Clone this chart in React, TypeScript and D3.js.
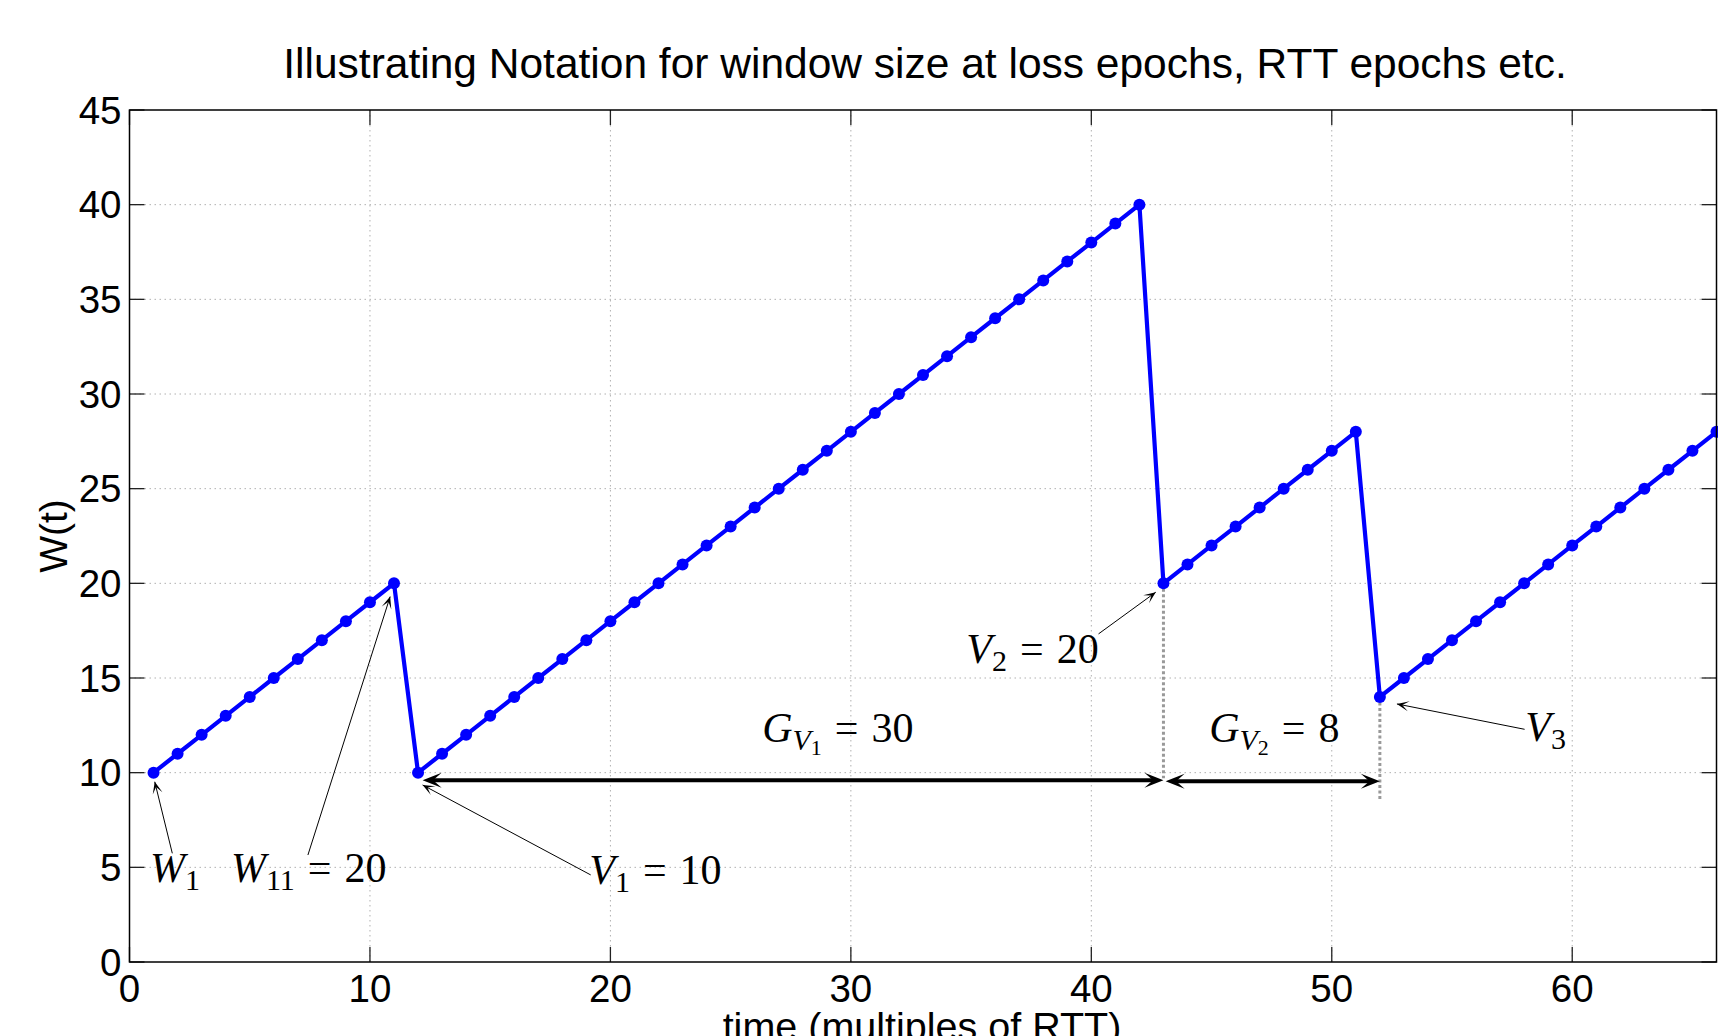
import React from "react";
import * as d3 from "d3";

// ---------- data ----------
const times: number[] = d3.range(1, 67);
const windowSizes: number[] = [
  10, 11, 12, 13, 14, 15, 16, 17, 18, 19, 20,
  10, 11, 12, 13, 14, 15, 16, 17, 18, 19, 20, 21, 22, 23, 24, 25, 26, 27, 28, 29, 30, 31, 32, 33, 34, 35, 36, 37, 38, 39, 40,
  20, 21, 22, 23, 24, 25, 26, 27, 28,
  14, 15, 16, 17, 18, 19, 20, 21, 22, 23, 24, 25, 26, 27, 28,
];
const xTicks: number[] = [0, 10, 20, 30, 40, 50, 60];
const yTicks: number[] = [0, 5, 10, 15, 20, 25, 30, 35, 40, 45];

const titleText = "Illustrating Notation for window size at loss epochs, RTT epochs etc.";
const xLabelText = "time (multiples of RTT)";
const yLabelText = "W(t)";

// annotation text (data coords of start/baseline)
type Part = { t: string; it?: boolean; lvl?: number; dx?: number };
const labelTexts: { x: number; y: number; parts: Part[] }[] = [
  { x: 0.85, y: 4.23, parts: [{ t: "W", it: true }, { t: "1", lvl: 1 }] },
  { x: 4.22, y: 4.23, parts: [{ t: "W", it: true }, { t: "11", lvl: 1 }, { t: "=", dx: 13 }, { t: "20", dx: 13 }] },
  { x: 19.12, y: 4.12, parts: [{ t: "V", it: true }, { t: "1", lvl: 1 }, { t: "=", dx: 13 }, { t: "10", dx: 13 }] },
  { x: 26.31, y: 11.62, parts: [{ t: "G", it: true }, { t: "V", it: true, lvl: 1 }, { t: "1", lvl: 2 }, { t: "=", dx: 13 }, { t: "30", dx: 13 }] },
  { x: 34.8, y: 15.8, parts: [{ t: "V", it: true }, { t: "2", lvl: 1 }, { t: "=", dx: 13 }, { t: "20", dx: 13 }] },
  { x: 44.9, y: 11.62, parts: [{ t: "G", it: true }, { t: "V", it: true, lvl: 1 }, { t: "2", lvl: 2 }, { t: "=", dx: 13 }, { t: "8", dx: 13 }] },
  { x: 58.05, y: 11.67, parts: [{ t: "V", it: true }, { t: "3", lvl: 1 }] },
];

// thin pointer arrows: [tailX, tailY, tipX, tipY]
const pointerArrows: number[][] = [
  [1.78, 5.74, 1.05, 9.52],
  [7.42, 5.65, 10.84, 19.3],
  [19.18, 4.6, 12.19, 9.35],
  [40.3, 17.33, 42.68, 19.53],
  [58.02, 12.29, 52.71, 13.63],
];

// thick double arrows: [x1, y1, x2, y2]
const gapArrows: number[][] = [
  [12.19, 9.6, 43.0, 9.6],
  [43.09, 9.55, 52.0, 9.55],
];

// dotted vertical markers: [x, yTop, yBottom]
const epochMarkers: number[][] = [
  [43, 20, 9.7],
  [52, 14, 8.5],
];

// ---------- layout ----------
const W = 1718;
const H = 1036;
const M = { left: 129.5, right: 1716.5, top: 110, bottom: 962 };
const SANS = "'Liberation Sans', Arial, Helvetica, sans-serif";
const SERIF = "'Liberation Serif', 'Times New Roman', serif";

function arrowHead(x1: number, y1: number, x2: number, y2: number, len: number, half: number, notch: number) {
  const a = Math.atan2(y2 - y1, x2 - x1);
  const ux = Math.cos(a), uy = Math.sin(a);
  const px = -uy, py = ux;
  const bx = x2 - ux * len, by = y2 - uy * len;
  const nx = x2 - ux * len * notch, ny = y2 - uy * len * notch;
  return `M${x2},${y2}L${bx + px * half},${by + py * half}L${nx},${ny}L${bx - px * half},${by - py * half}Z`;
}

export default function App() {
  const x = d3.scaleLinear().domain([0, 66]).range([M.left, M.right]);
  const y = d3.scaleLinear().domain([0, 45]).range([M.bottom, M.top]);
  const pts = times.map((t, i) => [t, windowSizes[i]] as [number, number]);
  const line = d3
    .line<[number, number]>()
    .x((d) => x(d[0]))
    .y((d) => y(d[1]));

  const tickLen = 15;
  const subSize = [42, 30, 22];
  const subShift = [0, 8, 13];

  return (
    <svg
      width={W}
      height={H}
      viewBox={`0 0 ${W} ${H}`}
      style={{ position: "absolute", left: 0, top: 0, display: "block", background: "#fff" }}
    >
      <rect x={0} y={0} width={W} height={H} fill="#fff" />
      <defs>
        <clipPath id="plotclip">
          <rect x={M.left} y={M.top - 10} width={M.right - M.left + 10} height={M.bottom - M.top + 10} />
        </clipPath>
      </defs>

      {/* grid */}
      <g stroke="#b0b0b0" strokeWidth={1} strokeDasharray="1.5,3.5">
        {xTicks.filter((t) => t > 0).map((t) => (
          <line key={"gx" + t} x1={x(t)} x2={x(t)} y1={M.top} y2={M.bottom} />
        ))}
        {yTicks.filter((t) => t > 0 && t < 45).map((t) => (
          <line key={"gy" + t} x1={M.left} x2={M.right} y1={y(t)} y2={y(t)} />
        ))}
      </g>

      {/* ticks */}
      <g stroke="#222" strokeWidth={1.3}>
        {xTicks.map((t) => (
          <g key={"tx" + t}>
            <line x1={x(t)} x2={x(t)} y1={M.bottom} y2={M.bottom - tickLen} />
            <line x1={x(t)} x2={x(t)} y1={M.top} y2={M.top + tickLen} />
          </g>
        ))}
        {yTicks.map((t) => (
          <g key={"ty" + t}>
            <line x1={M.left} x2={M.left + tickLen} y1={y(t)} y2={y(t)} />
            <line x1={M.right} x2={M.right - tickLen} y1={y(t)} y2={y(t)} />
          </g>
        ))}
      </g>

      {/* epoch dotted markers */}
      <g stroke="#999" strokeWidth={3} strokeDasharray="3,2.5">
        {epochMarkers.map((m, i) => (
          <line key={"em" + i} x1={x(m[0])} x2={x(m[0])} y1={y(m[1])} y2={y(m[2])} />
        ))}
      </g>

      {/* data line */}
      <g clipPath="url(#plotclip)">
        <path d={line(pts) || ""} fill="none" stroke="#0000ff" strokeWidth={4.2} strokeLinejoin="round" />
        {pts.map((p, i) => (
          <circle key={"pt" + i} cx={x(p[0])} cy={y(p[1])} r={6} fill="#0000ff" />
        ))}
      </g>

      {/* gap arrows */}
      <g>
        {gapArrows.map((a, i) => {
          const x1 = x(a[0]), y1 = y(a[1]), x2 = x(a[2]), y2 = y(a[3]);
          return (
            <g key={"ga" + i}>
              <line x1={x1 + 8} y1={y1} x2={x2 - 8} y2={y2} stroke="#000" strokeWidth={4} />
              <path d={arrowHead(x1, y1, x2, y2, 19, 7.5, 0.55)} fill="#000" />
              <path d={arrowHead(x2, y2, x1, y1, 19, 7.5, 0.55)} fill="#000" />
            </g>
          );
        })}
      </g>

      {/* pointer arrows */}
      <g>
        {pointerArrows.map((a, i) => {
          const x1 = x(a[0]), y1 = y(a[1]), x2 = x(a[2]), y2 = y(a[3]);
          return (
            <g key={"pa" + i}>
              <line x1={x1} y1={y1} x2={x2} y2={y2} stroke="#000" strokeWidth={1} />
              <path d={arrowHead(x1, y1, x2, y2, 12, 5, 0.45)} fill="#000" />
            </g>
          );
        })}
      </g>

      {/* annotation labels */}
      <g fontFamily={SERIF} fill="#000">
        {labelTexts.map((lb, i) => {
          const bx = x(lb.x), by = y(lb.y);
          return (
            <text key={"lb" + i} x={bx} y={by} fontSize={subSize[0]}>
              {lb.parts.map((p, j) => {
                const lvl = p.lvl || 0;
                return (
                  <tspan
                    key={j}
                    y={by + subShift[lvl]}
                    dx={p.dx || 0}
                    fontSize={subSize[lvl]}
                    fontStyle={p.it ? "italic" : "normal"}
                  >
                    {p.t}
                  </tspan>
                );
              })}
            </text>
          );
        })}
      </g>

      {/* axes box */}
      <rect
        x={M.left}
        y={M.top}
        width={M.right - M.left}
        height={M.bottom - M.top}
        fill="none"
        stroke="#000"
        strokeWidth={1.5}
      />

      {/* tick labels */}
      <g fontFamily={SANS} fontSize={38.5} fill="#000">
        {xTicks.map((t) => (
          <text key={"lx" + t} x={x(t)} y={1001.7} textAnchor="middle">
            {t}
          </text>
        ))}
        {yTicks.map((t) => (
          <text key={"ly" + t} x={M.left - 8} y={y(t) + 13.8} textAnchor="end">
            {t}
          </text>
        ))}
      </g>

      {/* titles */}
      <text x={(M.left + M.right) / 2 + 2} y={78.3} textAnchor="middle" fontFamily={SANS} fontSize={42.5} fill="#000">
        {titleText}
      </text>
      <text x={922} y={1040} textAnchor="middle" fontFamily={SANS} fontSize={39.5} fill="#000">
        {xLabelText}
      </text>
      <text
        transform={`translate(67,${(M.top + M.bottom) / 2}) rotate(-90)`}
        textAnchor="middle"
        fontFamily={SANS}
        fontSize={39}
        fill="#000"
      >
        {yLabelText}
      </text>
    </svg>
  );
}
